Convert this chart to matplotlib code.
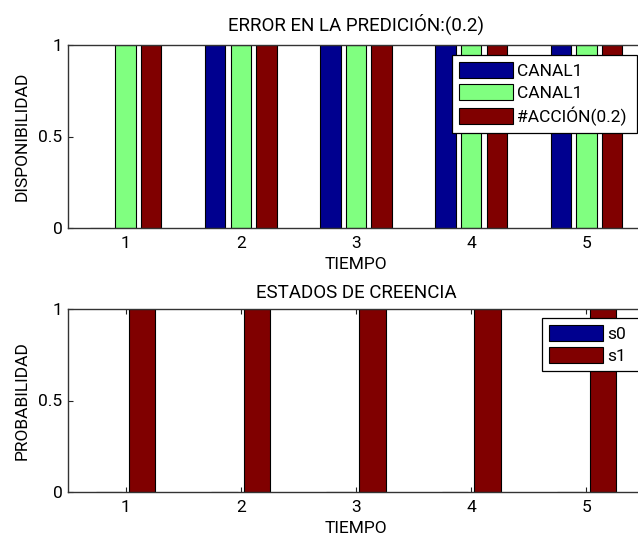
import numpy as np
import matplotlib
matplotlib.use("Agg")
import matplotlib.pyplot as plt

# data
tiempo = [1, 2, 3, 4, 5]
canal1_a = [0, 1, 1, 1, 1]
canal1_b = [1, 1, 1, 1, 1]
accion = [1, 1, 1, 1, 1]
s0 = [0, 0, 0, 0, 0]
s1 = [1, 1, 1, 1, 1]

# MATLAB jet-ish colours
BLUE = "#00008f"
GREEN = "#80ff80"
RED = "#800000"

plt.rcParams['font.family'] = ['Roboto', 'DejaVu Sans']
FS = 12.5

W, H = 638.0, 537.0


def grouped_bars(ax, x, series, colors, labels):
    # same group/bar widths that MATLAB bar() uses
    n = len(series)
    group = min(0.8, n / (n + 1.5))
    step = group / n
    width = 0.8 * step
    x = np.asarray(x, dtype=float)
    for i, (vals, c, lab) in enumerate(zip(series, colors, labels)):
        off = (i - (n - 1) / 2.0) * step
        ax.bar(x + off, vals, width=width, color=c, edgecolor="black",
               linewidth=0.8, label=lab, zorder=2)


def style_axes(ax, title, ylabel, title_pad):
    ax.set_xlim(0.5, 5.5)
    ax.set_ylim(0, 1)
    ax.set_xticks(tiempo)
    ax.set_yticks([0, 0.5, 1])
    ax.set_yticklabels(["0", "0.5", "1"])
    ax.set_axisbelow(True)
    ax.tick_params(direction="in", length=3.8, width=0.8, top=True, right=True,
                   labelsize=FS, color="#222222")
    ax.tick_params(axis="x", pad=5.5)
    ax.tick_params(axis="y", pad=4)
    for sp in ax.spines.values():
        sp.set_color("#333333")
        sp.set_linewidth(1.0)
    ax.set_title(title, fontsize=13.5, pad=title_pad)
    ax.set_ylabel(ylabel, fontsize=FS)
    ax.set_xlabel("TIEMPO", fontsize=FS)
    ax.yaxis.set_label_coords(-38 / 576.0, 0.5)
    ax.xaxis.set_label_coords(0.5, -29 / 183.0)


def add_legend(ax, x0, x1, ytop):
    leg = ax.legend(loc="upper left", bbox_to_anchor=(x0 / W, 1 - ytop / H, (x1 - x0) / W, 0),
                    bbox_transform=fig.transFigure, mode="expand", borderaxespad=0,
                    fancybox=False, framealpha=1, edgecolor="black",
                    handlelength=3.1, handleheight=1.05, labelspacing=0.3,
                    handletextpad=0.25, borderpad=0.4, fontsize=FS)
    leg.get_frame().set_linewidth(0.9)
    return leg


fig = plt.figure(figsize=(6.38, 5.37), dpi=100)

# top panel
ax1 = fig.add_axes([68 / W, 1 - 228 / H, (644 - 68) / W, (228 - 45) / H])
grouped_bars(ax1, tiempo, [canal1_a, canal1_b, accion], [BLUE, GREEN, RED],
             ["CANAL1", "CANAL1", "#ACCIÓN(0.2)"])
style_axes(ax1, "ERROR EN LA PREDICIÓN:(0.2)", "DISPONIBILIDAD", 10)
add_legend(ax1, 452, 637, 55)

# bottom panel
ax2 = fig.add_axes([68 / W, 1 - 492 / H, (644 - 68) / W, (492 - 309) / H])
grouped_bars(ax2, tiempo, [s0, s1], [BLUE, RED], ["s0", "s1"])
style_axes(ax2, "ESTADOS DE CREENCIA", "PROBABILIDAD", 8)
add_legend(ax2, 542, 650, 318)

fig.savefig("out.png", dpi=100)
